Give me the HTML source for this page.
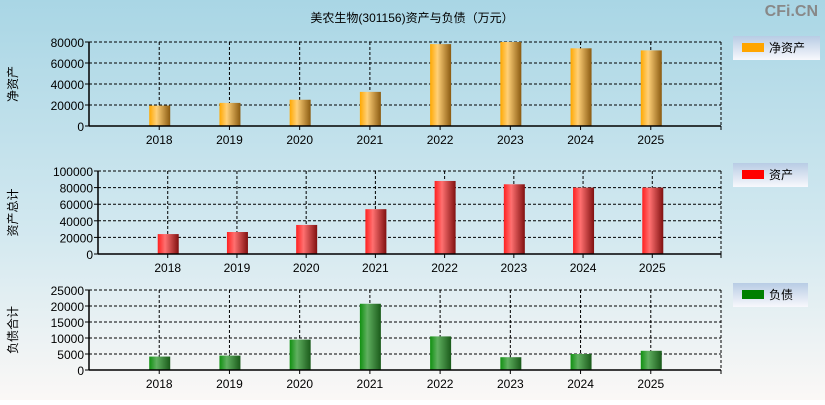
<!DOCTYPE html>
<html><head><meta charset="utf-8"><style>
html,body{margin:0;padding:0}
body{width:825px;height:400px;overflow:hidden;font-family:"Liberation Sans","Noto Sans CJK SC",sans-serif}
</style></head><body>
<svg id="c" width="825" height="400" xmlns="http://www.w3.org/2000/svg">
<defs>
<linearGradient id="bg" x1="0" y1="0" x2="0" y2="1"><stop offset="0" stop-color="#a9d6e5"/><stop offset="0.6" stop-color="#d4e9f0"/><stop offset="1" stop-color="#fbf8f6"/></linearGradient>
<linearGradient id="go" x1="0" x2="1"><stop offset="0" stop-color="#ffa800"/><stop offset="0.35" stop-color="#ffd078"/><stop offset="1" stop-color="#8a5a10"/></linearGradient>
<linearGradient id="gr" x1="0" x2="1"><stop offset="0" stop-color="#ff2020"/><stop offset="0.35" stop-color="#ff7070"/><stop offset="1" stop-color="#801010"/></linearGradient>
<linearGradient id="gg" x1="0" x2="1"><stop offset="0" stop-color="#109010"/><stop offset="0.35" stop-color="#60b060"/><stop offset="1" stop-color="#1a5a1a"/></linearGradient>
<linearGradient id="lg" x1="0" y1="0" x2="0" y2="1"><stop offset="0" stop-color="#b8cce4"/><stop offset="1" stop-color="#f8f8fc"/></linearGradient>
</defs>
<rect width="825" height="400" fill="url(#bg)"/>
<text x="412" y="22" font-size="12" text-anchor="middle" fill="#000">美农生物(301156)资产与负债（万元）</text>
<text x="818" y="16" font-size="16" font-weight="bold" text-anchor="end" fill="#888">CFi.CN</text>
<g id="panels"></g>
</svg>
<script>
const years = ["2018","2019","2020","2021","2022","2023","2024","2025"];
const netAssets = [19500, 22000, 25000, 32500, 78000, 80000, 74000, 72000];
const totalAssets = [24000, 26500, 35000, 54000, 88000, 84000, 80000, 80000];
const liabilities = [4200, 4500, 9500, 20700, 10500, 4000, 5000, 6000];
const ticks1 = [0, 20000, 40000, 60000, 80000];
const ticks2 = [0, 20000, 40000, 60000, 80000, 100000];
const ticks3 = [0, 5000, 10000, 15000, 20000, 25000];

const NS = "http://www.w3.org/2000/svg";
const root = document.getElementById('panels');
function mk(tag, attrs, parent){const e=document.createElementNS(NS,tag);for(const k in attrs)e.setAttribute(k,attrs[k]);(parent||root).appendChild(e);return e;}

const panels = [
 {key:"net", vals:netAssets, ticks:ticks1, max:80000, x0:89, x1:721, top:42, bot:126, grad:"url(#go)", ytitle:"净资产", legend:"净资产", lc:"#ffa500", ly:36, lw:87},
 {key:"assets", vals:totalAssets, ticks:ticks2, max:100000, x0:98, x1:721, top:171, bot:254, grad:"url(#gr)", ytitle:"资产总计", legend:"资产", lc:"#ff0000", ly:163, lw:75},
 {key:"liab", vals:liabilities, ticks:ticks3, max:25000, x0:89, x1:721, top:290, bot:370, grad:"url(#gg)", ytitle:"负债合计", legend:"负债", lc:"#008000", ly:283, lw:75}
];

panels.forEach(p=>{
  const g = mk('g',{});
  
  
  const step = (p.x1 - p.x0) / 9;
  const xs = i => p.x0 + step*(i+1) - (p.key==="assets"? -0.5:0) ;
  const ys = v => p.bot - (v/p.max)*(p.bot-p.top);
  // grid horizontal
  p.ticks.forEach(t=>{
    const y=ys(t);
    if(t>0){const l=mk('line',{x1:p.x0,x2:p.x1,y1:y,y2:y,stroke:"#000","stroke-dasharray":"3,2","stroke-width":1},g);
      
      }
    const tx=mk('text',{x:p.x0-5,y:y+5,"font-size":12,"text-anchor":"end",fill:"#000"},g);
    tx.textContent=t;
    
    
    mk('line',{x1:p.x0-4,x2:p.x0,y1:y,y2:y,stroke:"#000"},g);
  });
  // right border dashed
  mk('line',{x1:p.x1,x2:p.x1,y1:p.top,y2:p.bot,stroke:"#000","stroke-dasharray":"3,2"},g);
  years.forEach((yr,i)=>{
    const x=xs(i);
    const vl=mk('line',{x1:x,x2:x,y1:p.top,y2:p.bot,stroke:"#000","stroke-dasharray":"3,2"},g);
    
    
    const v=p.vals[i];
    const b=mk('rect',{x:x-10,y:ys(v),width:21,height:p.bot-ys(v),fill:p.grad},g);
    
    
    mk('line',{x1:x,x2:x,y1:p.bot,y2:p.bot+4,stroke:"#000"},g);
    const t=mk('text',{x:x,y:p.bot+18,"font-size":12,"text-anchor":"middle",fill:"#000"},g);
    t.textContent=yr;
    
    
  });
  mk('line',{x1:p.x0,x2:p.x1,y1:p.bot,y2:p.bot,stroke:"#000","stroke-width":1.5},g);
  mk('line',{x1:p.x1,x2:p.x1,y1:p.bot,y2:p.bot+4,stroke:"#000"},g);
  mk('line',{x1:p.x0,x2:p.x0,y1:p.top,y2:p.bot,stroke:"#000","stroke-width":1.5},g);
  const cy=(p.top+p.bot)/2;
  const yt=mk('text',{x:0,y:0,"font-size":12,"text-anchor":"middle",fill:"#000",transform:`translate(17,${cy}) rotate(-90)`},g);
  yt.textContent=p.ytitle;
  
  
  const lgd=mk('g',{},g);
  
  
  mk('rect',{x:733,y:p.ly,width:p.lw,height:24,fill:"url(#lg)"},lgd);
  mk('rect',{x:742,y:p.ly+7,width:22,height:9,fill:p.lc},lgd);
  const lt=mk('text',{x:769,y:p.ly+16,"font-size":12,fill:"#000"},lgd);
  lt.textContent=p.legend;
});
</script>
</body></html>
